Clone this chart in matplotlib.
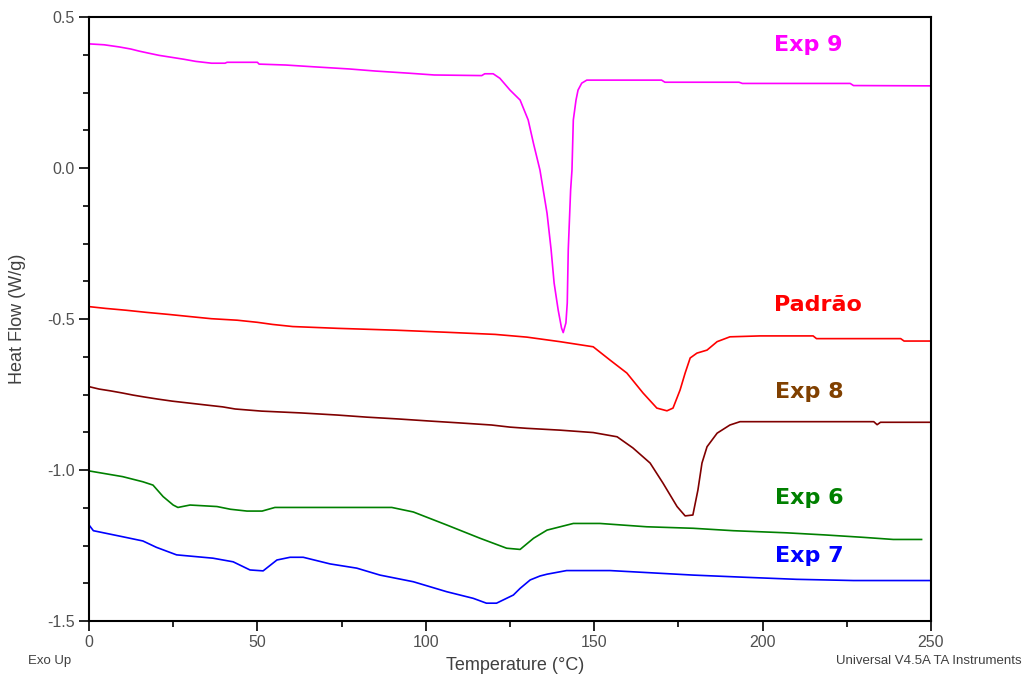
import numpy as np
import matplotlib
matplotlib.use("Agg")
from matplotlib import pyplot as plt
from matplotlib.ticker import MultipleLocator

plt.rcParams['font.family'] = ['Liberation Sans', 'DejaVu Sans']

# Exp 9 (magenta)
exp9_t = [0, 4.5, 8.9, 12.4, 14.9, 17.8, 20.8, 24.8, 28.2, 31.7, 36.4, 40.4, 41, 50, 50.5,
          58.4, 66.8, 77.2, 85.1, 94.9, 102.5, 116.6, 117.5, 120, 122, 125, 128, 130.4,
          132, 133.9, 136, 137.2, 138.1, 139.3, 140.3, 140.8, 141.6, 142, 142.3, 143,
          143.4, 143.8, 144.6, 145.2, 146.3, 147.8, 170, 171, 193, 194, 226, 227, 250]
exp9_y = [0.411, 0.408, 0.401, 0.394, 0.387, 0.380, 0.373, 0.366, 0.360, 0.353, 0.347,
          0.347, 0.350, 0.350, 0.344, 0.341, 0.335, 0.328, 0.321, 0.314, 0.308, 0.306,
          0.312, 0.312, 0.297, 0.258, 0.225, 0.159, 0.08, -0.007, -0.15, -0.27, -0.381,
          -0.47, -0.53, -0.545, -0.513, -0.447, -0.27, -0.073, -0.007, 0.159, 0.225,
          0.258, 0.281, 0.291, 0.291, 0.284, 0.284, 0.280, 0.280, 0.273, 0.272]

# Padrao (red)
padrao_t = [0, 5, 11, 17, 23.8, 30, 36.3, 44, 50, 54.5, 60.5, 74, 91, 106.3, 120.6, 130,
            139.8, 149.7, 154.7, 159.7, 164.5, 168.6, 171.6, 173.4, 175.5, 177, 178.5,
            180.5, 183.5, 186.5, 190.3, 199.2, 215, 216, 241, 242, 250]
padrao_y = [-0.459, -0.465, -0.471, -0.478, -0.485, -0.492, -0.499, -0.504, -0.511,
            -0.518, -0.525, -0.531, -0.537, -0.544, -0.551, -0.560, -0.575, -0.592,
            -0.636, -0.679, -0.745, -0.795, -0.804, -0.795, -0.735, -0.679, -0.629,
            -0.613, -0.603, -0.575, -0.559, -0.556, -0.556, -0.565, -0.565, -0.573, -0.573]

# Exp 8 (dark red)
exp8_t = [0, 3, 6.4, 9.9, 13.1, 16.3, 20.3, 24.7, 29.4, 34.9, 39.7, 43.4, 51.2, 62.9,
          73.7, 82.5, 91.8, 101.3, 109.9, 119.5, 125, 130, 139.8, 149.7, 156.8, 161.5,
          166.6, 170.4, 174.6, 177, 179.3, 180.8, 182, 183.5, 186.5, 190.3, 193.3, 233,
          234, 235, 250]
exp8_y = [-0.724, -0.732, -0.738, -0.745, -0.752, -0.758, -0.765, -0.772, -0.778,
          -0.785, -0.791, -0.798, -0.805, -0.811, -0.818, -0.825, -0.831, -0.838,
          -0.844, -0.851, -0.858, -0.862, -0.868, -0.876, -0.890, -0.927, -0.977,
          -1.043, -1.121, -1.152, -1.149, -1.066, -0.977, -0.923, -0.878, -0.851,
          -0.840, -0.840, -0.850, -0.842, -0.842]

# Exp 6 (green)
exp6_t = [0, 10, 16, 19, 22, 25, 26.4, 30, 38, 42, 46.9, 51.4, 55.2, 89.9, 96.3, 106.2,
          116.1, 124, 128, 132, 136, 143.8, 151.7, 165.6, 179.4, 191.3, 207.1, 218.5,
          229.9, 238.8, 247.2]
exp6_y = [-1.003, -1.022, -1.039, -1.050, -1.088, -1.116, -1.124, -1.116, -1.121,
          -1.130, -1.136, -1.136, -1.124, -1.124, -1.139, -1.182, -1.226, -1.259,
          -1.263, -1.226, -1.199, -1.177, -1.177, -1.188, -1.193, -1.201, -1.208,
          -1.215, -1.223, -1.230, -1.230]

# Exp 7 (blue)
exp7_t = [0, 1.3, 10, 16, 20, 26, 36.8, 42.8, 47.8, 51.7, 55.8, 59.7, 63.6, 71.6, 79.5,
          86.4, 96.3, 106.2, 114.1, 118, 121, 126, 128, 131, 133.9, 136, 141.8, 154.7,
          179.4, 194.3, 210.1, 227, 250]
exp7_y = [-1.182, -1.201, -1.221, -1.235, -1.256, -1.281, -1.292, -1.304, -1.331,
          -1.334, -1.298, -1.289, -1.289, -1.311, -1.325, -1.348, -1.370, -1.403,
          -1.425, -1.441, -1.441, -1.414, -1.392, -1.364, -1.351, -1.345, -1.333,
          -1.333, -1.348, -1.355, -1.362, -1.366, -1.366]

fig = plt.figure(figsize=(10.24, 6.75), dpi=100)
ax = fig.add_axes([89/1024, 1-621/675, 842/1024, 604/675])

lw = 1.2
ax.plot(exp9_t, exp9_y, color='#FF00FF', lw=lw)
ax.plot(padrao_t, padrao_y, color='#FF0000', lw=lw)
ax.plot(exp8_t, exp8_y, color='#800000', lw=lw)
ax.plot(exp6_t, exp6_y, color='#008000', lw=lw)
ax.plot(exp7_t, exp7_y, color='#0000FF', lw=lw)

lab_font = dict(family='DejaVu Sans', fontsize=16, fontweight='bold', ha='center', va='center')
ax.text(213.5, 0.407, 'Exp 9', color='#FF00FF', **lab_font)
ax.text(216.5, -0.454, 'Padrão', color='#FF0000', **lab_font)
ax.text(214, -0.742, 'Exp 8', color='#804000', **lab_font)
ax.text(214, -1.093, 'Exp 6', color='#008000', **lab_font)
ax.text(214, -1.285, 'Exp 7', color='#0000FF', **lab_font)

ax.set_xlim(0, 250)
ax.set_ylim(-1.5, 0.5)
ax.xaxis.set_major_locator(MultipleLocator(50))
ax.xaxis.set_minor_locator(MultipleLocator(25))
ax.yaxis.set_major_locator(MultipleLocator(0.5))
ax.yaxis.set_minor_locator(MultipleLocator(0.125))
ax.yaxis.set_major_formatter(plt.FuncFormatter(lambda v, p: "%.1f" % v))

ax.tick_params(which='major', direction='out', length=7, width=1.2, labelsize=11.5,
               labelcolor='#505050', pad=3)
ax.tick_params(which='minor', direction='out', length=4, width=1.2)
ax.tick_params(top=False, right=False, which='both')
for s in ax.spines.values():
    s.set_linewidth(1.5)

ax.set_xlabel('Temperature (°C)', fontsize=13, color='#404040')
ax.set_ylabel('Heat Flow (W/g)', fontsize=13, color='#404040')
ax.xaxis.set_label_coords(0.506, -0.06)
ax.yaxis.set_label_coords(-0.075, 0.5)

fig.text(28/1024, 1-661/675, 'Exo Up', fontsize=9.5, color='#404040', ha='left', va='center')
fig.text(1022/1024, 1-661/675, 'Universal V4.5A TA Instruments', fontsize=9.5,
         color='#404040', ha='right', va='center')

fig.savefig('out.png', dpi=100)
